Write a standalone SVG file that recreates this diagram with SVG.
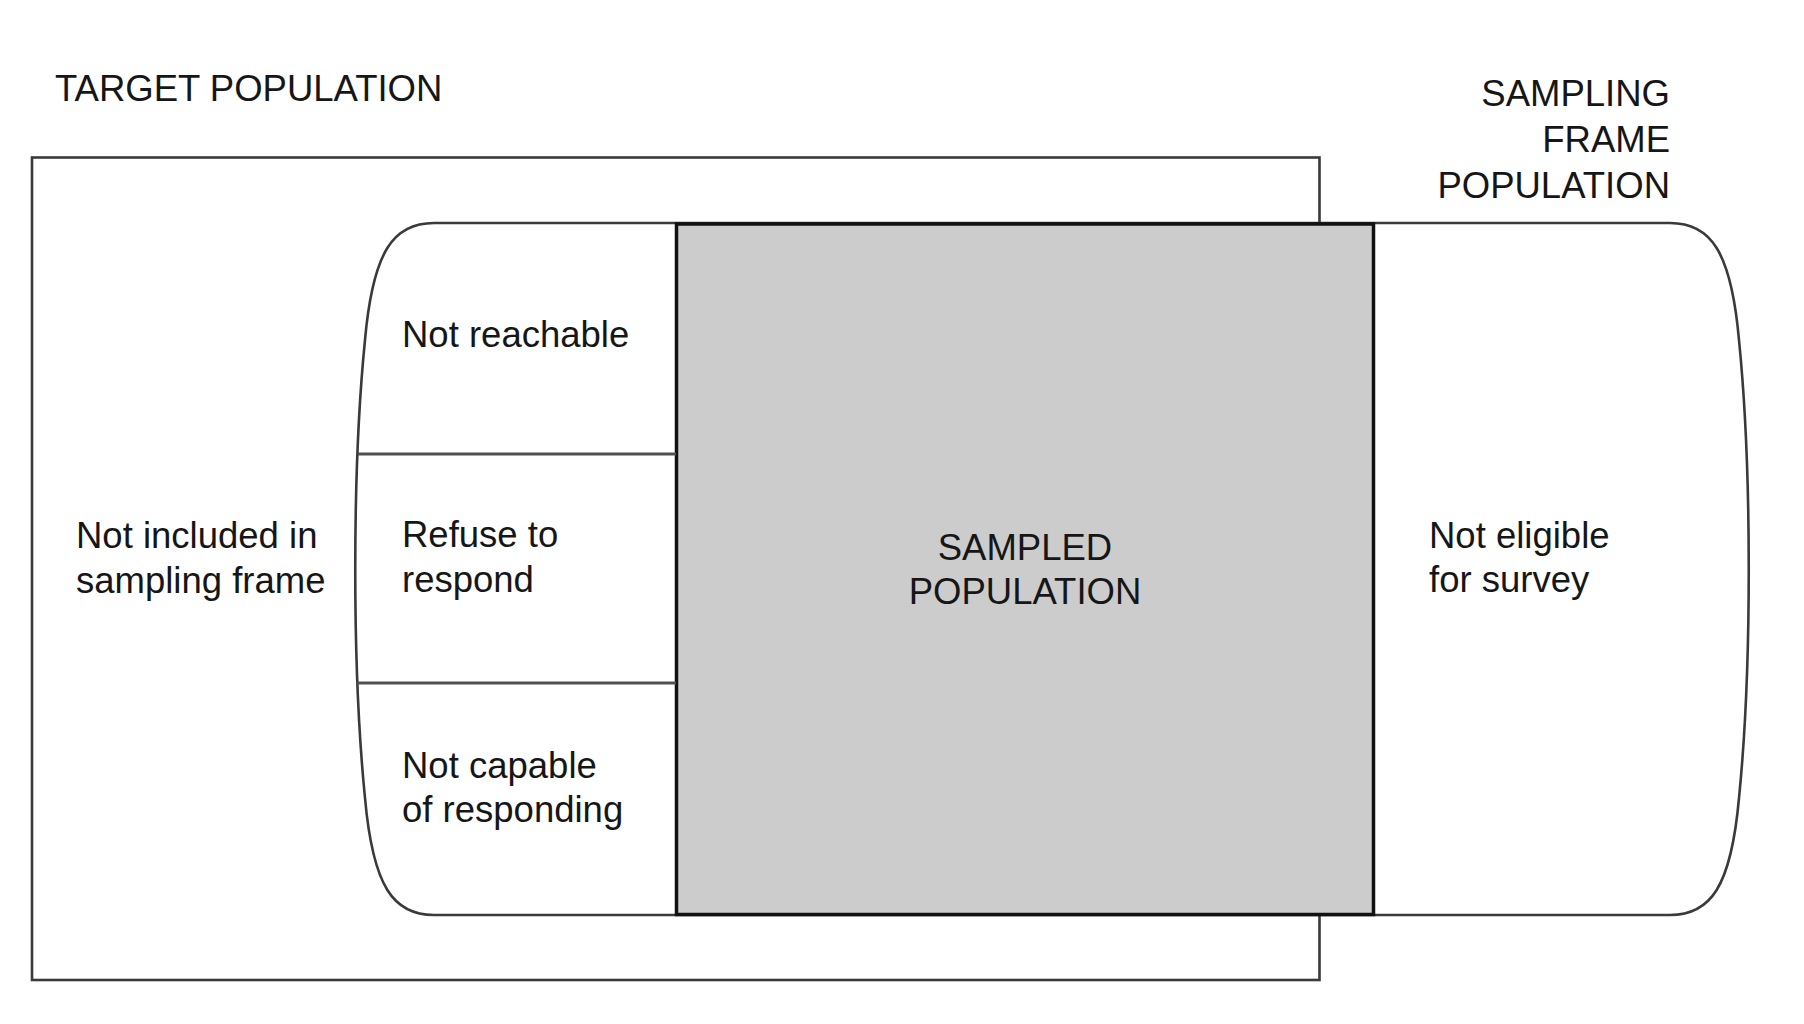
<svg xmlns="http://www.w3.org/2000/svg" width="1804" height="1024" viewBox="0 0 1804 1024">
<style>
text{font-family:"Liberation Sans",Arial,sans-serif;font-size:36.5px;fill:#161616}
.thin{fill:none;stroke:#3a3a3a;stroke-width:2.6}
.div{fill:none;stroke:#505050;stroke-width:3}
</style>
<rect width="1804" height="1024" fill="#ffffff"/>
<g id="target-population">
<rect x="32" y="157.5" width="1287.5" height="822.5" fill="#ffffff" class="thin"/>
<text x="55" y="101">TARGET POPULATION</text>
<text x="76" y="548">Not included in</text>
<text x="76" y="593">sampling frame</text>
</g>
<g id="sampling-frame">
<path d="M434,223 H1670 C1710,223 1731,250 1739,340 C1752,470 1752,668 1739,798 C1731,888 1710,915 1670,915 H434 C394,915 373,888 365,798 C352,668 352,470 365,340 C373,250 394,223 434,223 Z" fill="#ffffff" class="thin"/>
<text x="1670" y="106" text-anchor="end">SAMPLING</text>
<text x="1670" y="152" text-anchor="end">FRAME</text>
<text x="1670" y="198" text-anchor="end">POPULATION</text>
</g>
<g id="not-reachable">
<text x="402" y="347">Not reachable</text>
</g>
<g id="refuse">
<text x="402" y="547">Refuse to</text>
<text x="402" y="592">respond</text>
</g>
<g id="not-capable">
<text x="402" y="778">Not capable</text>
<text x="402" y="822">of responding</text>
</g>
<g id="sampled-population">
<rect x="676.5" y="224" width="697" height="690.5" fill="#cccccc" stroke="#111111" stroke-width="3.5"/>
<text x="1025" y="560" text-anchor="middle">SAMPLED</text>
<text x="1025" y="604" text-anchor="middle">POPULATION</text>
</g>
<g id="not-eligible">
<text x="1429" y="548">Not eligible</text>
<text x="1429" y="592">for survey</text>
</g>
<g id="connectors">
<line x1="358" y1="454" x2="676" y2="454" class="div"/>
<line x1="357" y1="683" x2="676" y2="683" class="div"/>
</g>
</svg>
